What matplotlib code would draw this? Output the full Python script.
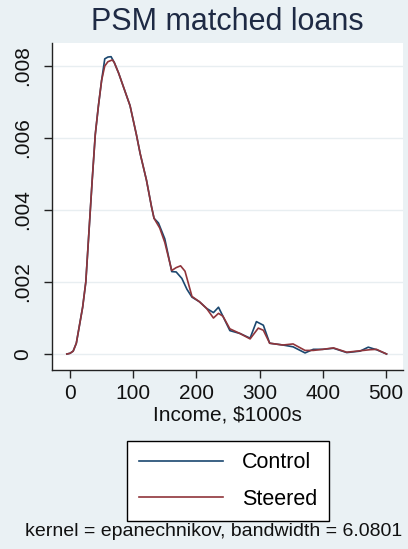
import matplotlib
matplotlib.use("Agg")
import matplotlib.pyplot as plt
from matplotlib.lines import Line2D

plt.rcParams['font.family'] = ['Liberation Sans', 'DejaVu Sans']

# Data
control_x = [-5, 0, 5, 10, 15, 20, 25, 30, 35, 40, 45, 50, 55, 60, 65, 70, 77, 85, 95, 105,
             111, 121, 129, 133, 140, 150, 161, 168, 177, 185, 193, 205, 216, 227, 235, 242,
             253, 269, 285, 295, 306, 316, 337, 353, 372, 385, 400, 417, 438, 459, 472, 485, 501]
control_y = [0.0, 0.00002, 0.00008, 0.0003, 0.0008, 0.0013, 0.002, 0.0034, 0.0048, 0.0061,
             0.0069, 0.0076, 0.0082, 0.00825, 0.00826, 0.0081, 0.0078, 0.0074, 0.0069, 0.0061,
             0.00557, 0.00483, 0.00409, 0.00377, 0.00364, 0.0032, 0.00229, 0.00228, 0.0021, 0.0018,
             0.00158, 0.00145, 0.00127, 0.00115, 0.0013, 0.00105,
             0.00065, 0.00057, 0.00044, 0.0009, 0.0008, 0.0003, 0.00025, 0.0002, 0.00003,
             0.00013, 0.00013, 0.00016, 0.00004, 0.00008, 0.00019, 0.00012, 0.0]

steered_x = [-5, 0, 5, 10, 15, 20, 25, 30, 35, 40, 45, 50, 55, 60, 67, 70, 77, 85, 95, 105,
             111, 121, 129, 133, 142, 150, 161, 168, 175, 182, 193, 205, 216, 227, 235, 242,
             253, 269, 285, 298, 306, 316, 337, 353, 372, 385, 400, 417, 438, 459, 475, 485, 501]
steered_y = [0.0, 0.00002, 0.00008, 0.0003, 0.0008, 0.0013, 0.002, 0.0034, 0.0048, 0.0061,
             0.0069, 0.0076, 0.0080, 0.00812, 0.00817, 0.0081, 0.0078, 0.0074, 0.0069, 0.0061,
             0.00557, 0.00483, 0.00409, 0.00377, 0.0035, 0.0031, 0.00232, 0.0024, 0.00245, 0.0023,
             0.0016, 0.00145, 0.00127, 0.001, 0.00113, 0.00105,
             0.0007, 0.00057, 0.00042, 0.00072, 0.00066, 0.0003, 0.00025, 0.00028, 0.0001,
             0.0001, 0.00013, 0.00017, 0.00005, 0.00009, 0.00012, 0.00013, 0.0]

series_labels = ["Control", "Steered"]
series_colors = ["#1a476f", "#90353b"]

x_ticks = [0, 100, 200, 300, 400, 500]
y_ticks = [0, 0.002, 0.004, 0.006, 0.008]
y_tick_labels = ["0", ".002", ".004", ".006", ".008"]

title = "PSM matched loans"
xlabel = "Income, $1000s"
note = "kernel = epanechnikov, bandwidth = 6.0801"

W, H = 408, 549
bg = "#eaf1f4"
fig = plt.figure(figsize=(W / 100, H / 100), dpi=100, facecolor=bg)
ax = fig.add_axes([52 / W, 1 - 370 / H, (403 - 52) / W, (370 - 43) / H])
ax.set_facecolor("white")

for yt in y_ticks:
    ax.axhline(yt, color="#e8eef1", lw=1.0, zorder=0)

ax.plot(control_x, control_y, color=series_colors[0], lw=1.2, label=series_labels[0], zorder=3)
ax.plot(steered_x, steered_y, color=series_colors[1], lw=1.2, label=series_labels[1], zorder=4)

ax.set_xlim(-28.5, 527)
ax.set_ylim(-0.000444, 0.00864)
ax.set_xticks(x_ticks)
ax.set_xticklabels([str(v) for v in x_ticks])
ax.set_yticks(y_ticks)
ax.set_yticklabels(y_tick_labels, rotation=90, va="center")

for s in ["top", "right"]:
    ax.spines[s].set_visible(False)
for s in ["left", "bottom"]:
    ax.spines[s].set_color("#222222")
    ax.spines[s].set_linewidth(1.0)

ax.tick_params(axis="both", direction="out", length=6, width=1.0, color="#222222",
               labelsize=15, labelcolor="#111111")
ax.tick_params(axis="y", pad=8)
ax.tick_params(axis="x", pad=4)

fig.text(227 / W, 1 - 22 / H, title, ha="center", va="center", fontsize=22, color="#1e2a44")
fig.text(227 / W, 1 - 415 / H, xlabel, ha="center", va="center", fontsize=15, color="#111111")
fig.text(214 / W, 1 - 532 / H, note, ha="center", va="center", fontsize=14, color="#111111")

handles = [Line2D([0], [0], color=c, lw=1.2) for c in series_colors]
leg = fig.legend(handles, series_labels, loc="center", bbox_to_anchor=(228 / W, 1 - 481 / H),
                 frameon=True, fancybox=False, edgecolor="black", facecolor="white",
                 fontsize=15.5, handlelength=3.9, handletextpad=0.9, borderpad=0.55,
                 labelspacing=0.7, borderaxespad=0)
leg.get_frame().set_linewidth(1.0)
leg.get_frame().set_alpha(None)

fig.savefig("out.png", dpi=100, facecolor=bg)
